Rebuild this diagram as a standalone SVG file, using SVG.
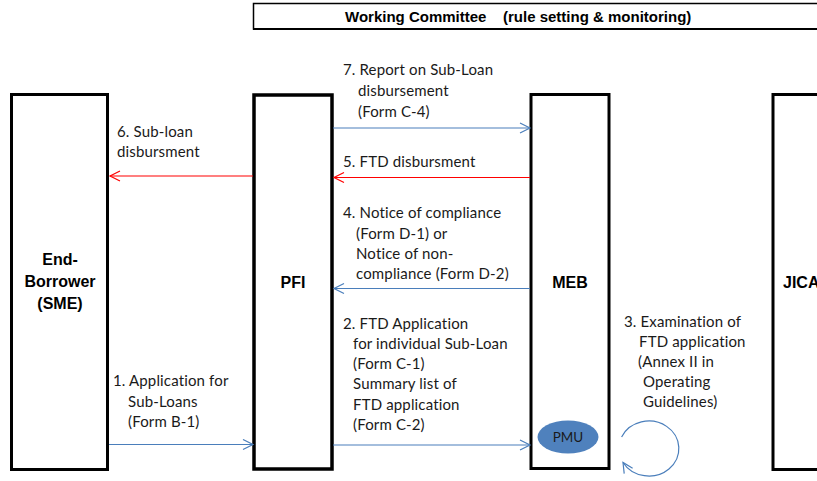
<svg xmlns="http://www.w3.org/2000/svg" width="817" height="481" viewBox="0 0 817 481">
  <style>
    .box { fill: #ffffff; stroke: #000000; stroke-width: 3; }
    .title { font-family: "Liberation Sans", Arial, sans-serif; font-weight: bold; font-size: 15px; fill: #000000; }
    .name { font-family: "Liberation Sans", Arial, sans-serif; font-weight: bold; font-size: 16px; fill: #000000; text-anchor: middle; }
    .lbl { font-family: Lato, "Liberation Sans", sans-serif; font-size: 15px; letter-spacing: 0.15px; fill: #1a1a1a; }
    .blue { stroke: #4a7ebb; stroke-width: 1.2; fill: none; }
    .red { stroke: #ff0000; stroke-width: 1.2; fill: none; }
  </style>
  <defs>
    <marker id="headBlue" markerUnits="userSpaceOnUse" markerWidth="14" markerHeight="14" refX="11" refY="6" orient="auto">
      <path d="M1,1 L11,6 L1,11" fill="none" stroke="#4a7ebb" stroke-width="1.2"/>
    </marker>
    <marker id="headRed" markerUnits="userSpaceOnUse" markerWidth="14" markerHeight="14" refX="11" refY="6" orient="auto">
      <path d="M1,1 L11,6 L1,11" fill="none" stroke="#ff0000" stroke-width="1.2"/>
    </marker>
  </defs>

  <!-- Working Committee banner -->
  <g id="working-committee">
    <path d="M817,3.5 H253.5 V29 H817" fill="none" stroke="#000000" stroke-width="1.5"/>
    <line x1="253" y1="29" x2="817" y2="29" stroke="#000000" stroke-width="2"/>
    <text class="title" x="345" y="22">Working Committee</text>
    <text class="title" x="503" y="22">(rule setting &amp; monitoring)</text>
  </g>

  <!-- End-Borrower -->
  <g id="end-borrower">
    <rect class="box" x="11.5" y="94.5" width="96" height="375"/>
    <text class="name" x="60" y="265">End-</text>
    <text class="name" x="60" y="287">Borrower</text>
    <text class="name" x="60" y="309">(SME)</text>
  </g>

  <!-- PFI -->
  <g id="pfi">
    <rect class="box" x="254" y="95" width="78" height="374" style="stroke-width:3.5"/>
    <text class="name" x="293" y="288">PFI</text>
  </g>

  <!-- MEB with PMU -->
  <g id="meb">
    <rect class="box" x="531" y="94.5" width="78" height="374"/>
    <text class="name" x="570" y="288">MEB</text>
  </g>
  <g id="pmu">
    <ellipse cx="568" cy="437" rx="30.5" ry="16.5" fill="#4f81bd"/>
    <text x="568" y="442" font-family="Lato, 'Liberation Sans', sans-serif" font-size="13.5" fill="#1a1a1a" text-anchor="middle">PMU</text>
  </g>

  <!-- JICA -->
  <g id="jica">
    <rect class="box" x="773" y="94.5" width="60" height="375"/>
    <text class="name" x="783" y="288" style="text-anchor:start">JICA</text>
  </g>

  <!-- Connectors -->
  <g id="connectors">
    <line class="blue" x1="333" y1="128" x2="530" y2="128" marker-end="url(#headBlue)"/>
    <line class="red" x1="530" y1="177.5" x2="334" y2="177.5" marker-end="url(#headRed)"/>
    <line class="red" x1="253" y1="176" x2="110" y2="176" marker-end="url(#headRed)"/>
    <line class="blue" x1="530" y1="288.5" x2="334" y2="288.5" marker-end="url(#headBlue)"/>
    <line class="blue" x1="333" y1="445" x2="530" y2="445" marker-end="url(#headBlue)"/>
    <line class="blue" x1="109" y1="444.5" x2="253" y2="444.5" marker-end="url(#headBlue)"/>
    <path class="blue" d="M621.6,437 A30,27.5 0 1 1 623,462.5" marker-end="url(#headBlue)"/>
  </g>

  <!-- Step labels -->
  <g id="labels">
    <text class="lbl" x="343" y="75">7. Report on Sub-Loan</text>
    <text class="lbl" x="358" y="96">disbursement</text>
    <text class="lbl" x="358" y="117">(Form C-4)</text>

    <text class="lbl" x="343" y="167">5. FTD disbursment</text>

    <text class="lbl" x="117" y="137">6. Sub-loan</text>
    <text class="lbl" x="117" y="157">disbursment</text>

    <text class="lbl" x="343" y="218">4. Notice of compliance</text>
    <text class="lbl" x="356" y="239">(Form D-1) or</text>
    <text class="lbl" x="356" y="259">Notice of non-</text>
    <text class="lbl" x="356" y="279">compliance (Form D-2)</text>

    <text class="lbl" x="343" y="329">2. FTD Application</text>
    <text class="lbl" x="353" y="349">for individual Sub-Loan</text>
    <text class="lbl" x="353" y="369">(Form C-1)</text>
    <text class="lbl" x="353" y="389">Summary list of</text>
    <text class="lbl" x="353" y="410">FTD application</text>
    <text class="lbl" x="353" y="430">(Form C-2)</text>

    <text class="lbl" x="113" y="386">1. Application for</text>
    <text class="lbl" x="128" y="407">Sub-Loans</text>
    <text class="lbl" x="128" y="427">(Form B-1)</text>

    <text class="lbl" x="624" y="327">3. Examination of</text>
    <text class="lbl" x="639" y="347">FTD application</text>
    <text class="lbl" x="638" y="367">(Annex II in</text>
    <text class="lbl" x="643" y="387">Operating</text>
    <text class="lbl" x="643" y="407">Guidelines)</text>
  </g>
</svg>
